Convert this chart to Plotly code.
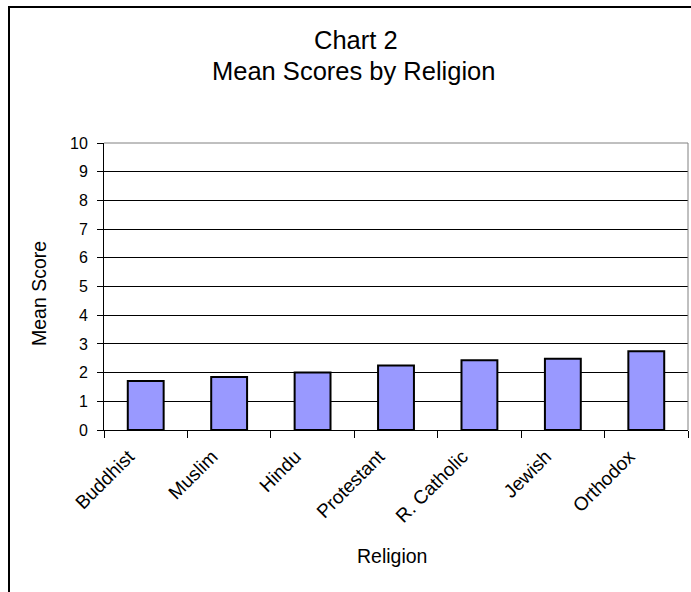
import plotly.graph_objects as go

religions = ["Buddhist", "Muslim", "Hindu", "Protestant", "R. Catholic", "Jewish", "Orthodox"]
mean_scores = [1.71, 1.85, 2.0, 2.25, 2.43, 2.48, 2.74]
y_ticks = list(range(0, 11))

W, H = 691, 592
L, R, T, B = 104, 3, 143, 162
PW = W - L - R
PH = H - T - B

def px_x(px):
    return (px - L) / PW

def px_y(py):
    return (H - B - py) / PH

FONT = "Liberation Sans, Arial, sans-serif"

fig = go.Figure()
fig.add_trace(go.Bar(
    x=religions,
    y=mean_scores,
    marker=dict(color="#9999FF", line=dict(color="#000000", width=2)),
    showlegend=False,
))

fig.update_layout(
    width=W, height=H,
    margin=dict(l=L, r=R, t=T, b=B, pad=0),
    paper_bgcolor="white",
    plot_bgcolor="white",
    bargap=0.57,
    font=dict(family=FONT, color="black", size=16),
    xaxis=dict(
        type="category",
        tickangle=-45,
        ticks="outside",
        ticklen=7,
        tickcolor="#000000",
        tickson="boundaries",
        showline=True,
        linecolor="#000000",
        linewidth=1,
        showgrid=False,
        tickfont=dict(family=FONT, size=19, color="black"),
        ticklabelshift=-17,
        ticklabelstandoff=7,
        fixedrange=True,
    ),
    yaxis=dict(
        range=[0, 10],
        tickvals=y_ticks,
        ticks="outside",
        ticklen=6,
        tickcolor="#000000",
        showline=True,
        linecolor="#000000",
        linewidth=1,
        showgrid=True,
        gridcolor="#000000",
        gridwidth=1,
        zeroline=False,
        tickfont=dict(family=FONT, size=16, color="black"),
        ticklabelstandoff=6,
        fixedrange=True,
    ),
)

# plot area border (gray) on top and right
fig.add_shape(type="line", xref="paper", yref="paper", x0=0, x1=1, y0=1, y1=1,
              line=dict(color="#808080", width=1))
fig.add_shape(type="line", xref="paper", yref="paper", x0=1, x1=1, y0=0, y1=1,
              line=dict(color="#808080", width=1))

# outer chart border
fig.add_shape(type="rect", xref="paper", yref="paper",
              x0=px_x(9), x1=px_x(760), y0=px_y(660), y1=px_y(7),
              line=dict(color="#000000", width=2), fillcolor="rgba(0,0,0,0)", layer="above")

# titles
fig.add_annotation(text="Chart 2", xref="paper", yref="paper",
                   x=px_x(356), y=px_y(40), xanchor="center", yanchor="middle",
                   showarrow=False, font=dict(family=FONT, size=25.5, color="black"))
fig.add_annotation(text="Mean Scores by Religion", xref="paper", yref="paper",
                   x=px_x(353), y=px_y(71.5), xanchor="center", yanchor="middle",
                   showarrow=False, font=dict(family=FONT, size=25.5, color="black"))
fig.add_annotation(text="Mean Score", xref="paper", yref="paper",
                   x=px_x(39), y=px_y(294), xanchor="center", yanchor="middle",
                   textangle=-90, showarrow=False,
                   font=dict(family=FONT, size=19.5, color="black"))
fig.add_annotation(text="Religion", xref="paper", yref="paper",
                   x=px_x(392), y=px_y(556), xanchor="center", yanchor="middle",
                   showarrow=False, font=dict(family=FONT, size=19.5, color="black"))

fig.write_html("out.html")
